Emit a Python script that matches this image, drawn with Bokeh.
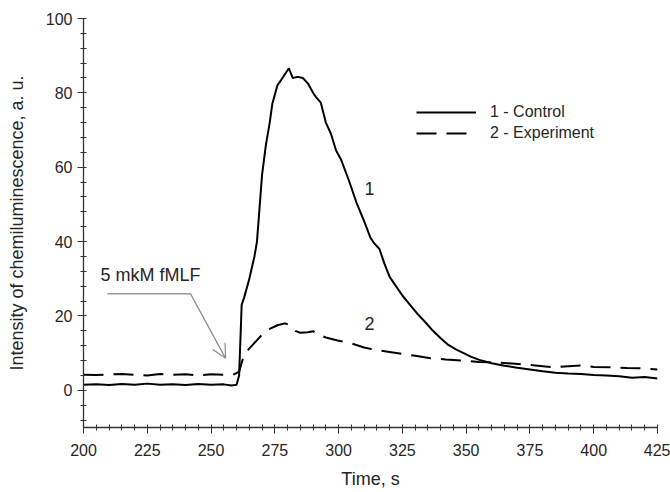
from bokeh.plotting import figure
from bokeh.models import (ColumnDataSource, FixedTicker, Legend, LegendItem, Arrow,
                          OpenHead, Range1d)
from bokeh.core.properties import value
from bokeh.embed import file_html
from bokeh.resources import INLINE

# ---- data ----
control_t = [200, 205, 210, 215, 220, 225, 230, 235, 240, 245, 250, 255, 258, 260,
             261, 262, 263, 265, 267, 268, 270, 271.5, 273, 274, 276, 278, 280.5,
             282, 284, 286, 288, 290, 291, 293, 295, 297, 299, 301, 304, 307, 310,
             312.5, 314, 316, 318, 320, 322, 325, 328, 331, 334, 337, 340, 343, 346,
             349, 352, 356, 360, 365, 370, 375, 380, 385, 390, 395, 400, 405, 410,
             415, 420, 425]
control_v = [1.5, 1.6, 1.4, 1.7, 1.5, 1.8, 1.5, 1.6, 1.4, 1.7, 1.5, 1.6, 1.3, 1.5,
             4, 23, 25, 30, 36, 40, 58, 66, 72, 77, 82, 84, 86.6,
             84, 84.3, 84, 82.5, 80, 79, 77.4, 72, 69, 64.5, 62, 56.5, 50.5, 45.5,
             41, 39.5, 38, 34, 30.5, 28.5, 25.5, 23, 20.5, 18.3, 16, 14, 12.2, 11,
             10, 9, 8, 7.3, 6.6, 6.1, 5.6, 5.1, 4.7, 4.5, 4.4, 4.1, 4.0, 3.8,
             3.4, 3.6, 3.2]

exp_t = [200, 205, 210, 215, 220, 225, 230, 235, 240, 245, 250, 255, 259, 261,
         262.7, 264, 265.5, 268, 270.5, 273, 276, 279, 281, 283, 285, 288, 290, 292,
         295, 299.6, 305, 310, 315, 320, 325, 330, 336, 342, 349, 355, 362, 368,
         372, 378, 384, 390, 395, 400, 407, 413, 419, 425]
exp_v = [4.2, 4.1, 4.3, 4.4, 4.2, 4.0, 4.4, 4.2, 4.3, 4.0, 4.3, 4.2, 4.3, 5,
         9, 10.5, 11.6, 13.5, 15.3, 16.5, 17.5, 18, 17.5, 16, 15.5, 15.6, 15.9, 15,
         14.2, 13.4, 12.6, 11.5, 10.8, 10.3, 9.8, 9.3, 8.6, 8.3, 8, 7.6, 7.5, 7.2,
         7.0, 6.6, 6.2, 6.5, 6.7, 6.3, 6.2, 6.0, 5.9, 5.6]

x_ticks = [200, 225, 250, 275, 300, 325, 350, 375, 400, 425]
x_minor = list(range(200, 426, 5))
y_ticks = [0, 20, 40, 60, 80, 100]
y_minor = list(range(-8, 101, 4))

legend_labels = ["1 - Control", "2 - Experiment"]
curve_labels = ["1", "2"]
curve_label_t = [312.1, 312.1]
curve_label_v = [54.3, 18.0]

note_text = "5 mkM fMLF"
note_t, note_v = 206.7, 30.9
note_line_t = [209.4, 241.9]
note_line_v = [26, 26]
arrow_end_t, arrow_end_v = 255.7, 8.6

FONT = "Liberation Sans"
TXT = "#262626"

p = figure(width=670, height=492, output_backend="svg", toolbar_location=None,
           x_range=Range1d(200, 425), y_range=Range1d(-10, 100),
           min_border_left=83, min_border_right=13, min_border_top=18,
           min_border_bottom=65)
p.outline_line_color = None
p.xgrid.grid_line_color = None
p.ygrid.grid_line_color = None
p.background_fill_color = "white"
p.border_fill_color = "white"

# axes
p.xaxis.ticker = FixedTicker(ticks=x_ticks, minor_ticks=x_minor)
p.yaxis.ticker = FixedTicker(ticks=y_ticks, minor_ticks=y_minor)
for ax in (p.xaxis[0], p.yaxis[0]):
    ax.axis_line_color = "#333333"
    ax.axis_line_width = 1.3
    ax.major_tick_line_color = "#333333"
    ax.minor_tick_line_color = "#333333"
    ax.major_tick_in = 0
    ax.major_tick_out = 6
    ax.minor_tick_in = 3
    ax.minor_tick_out = 3
    ax.major_label_text_font = FONT
    ax.major_label_text_font_size = "16px"
    ax.major_label_text_color = TXT
    ax.axis_label_text_font = FONT
    ax.axis_label_text_font_size = "18px"
    ax.axis_label_text_font_style = "normal"
    ax.axis_label_text_color = TXT

p.xaxis.axis_label = "Time, s"
p.xaxis.major_label_standoff = 10
p.xaxis.axis_label_standoff = 10
p.yaxis.axis_label = "Intensity of chemiluminescence, a. u."
p.yaxis.major_label_standoff = 5
p.yaxis.axis_label_standoff = 16

# curves
r1 = p.line(control_t, control_v, line_color="black", line_width=2)
r2 = p.line(exp_t, exp_v, line_color="black", line_width=2, line_dash="20 10")

# legend
legend = Legend(items=[LegendItem(label=legend_labels[0], renderers=[r1]),
                       LegendItem(label=legend_labels[1], renderers=[r2])],
                location=(333, 284), orientation="vertical",
                glyph_width=60, glyph_height=20, spacing=1, label_standoff=14,
                padding=0, margin=0, border_line_color=None,
                background_fill_alpha=0,
                label_text_font=FONT, label_text_font_size="16px",
                label_text_color=TXT, label_height=20)
p.add_layout(legend, "center")

# curve labels
src = ColumnDataSource(dict(x=curve_label_t, y=curve_label_v, t=curve_labels))
p.text(x="x", y="y", text="t", source=src, text_font=value(FONT),
       text_font_size="18px", text_color=TXT, text_align="center",
       text_baseline="middle")

# annotation
p.text(x=[note_t], y=[note_v], text=[note_text], text_font=value(FONT),
       text_font_size="18px", text_color=TXT, text_align="left",
       text_baseline="middle")
p.line(note_line_t, note_line_v, line_color="#9a9a9a", line_width=1.5)
p.add_layout(Arrow(x_start=note_line_t[1], y_start=note_line_v[1],
                   x_end=arrow_end_t, y_end=arrow_end_v,
                   line_color="#8a8a8a", line_width=1.2,
                   end=OpenHead(size=14, line_color="#8a8a8a", line_width=1.2)))

open("out.html", "w").write(file_html(p, INLINE))
